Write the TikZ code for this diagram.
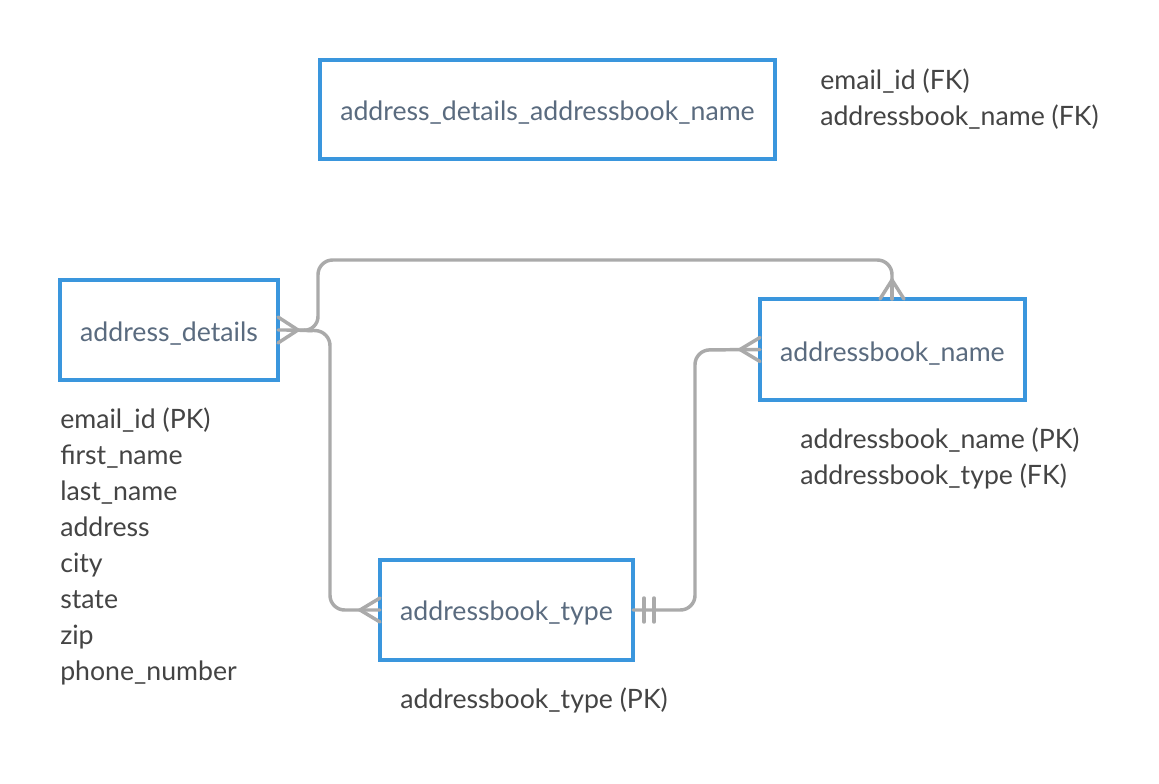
\documentclass[tikz,border=0pt]{standalone}
\usepackage{fontspec}
\setmainfont{Lato}
\usetikzlibrary{calc}
\definecolor{boxblue}{HTML}{3A96DD}
\definecolor{nametext}{HTML}{5A6B7F}
\definecolor{attrtext}{HTML}{444444}
\definecolor{linkgray}{HTML}{AAAAAA}
\begin{document}
\begin{tikzpicture}[x=0.75pt,y=-0.75pt,
  entity/.style={draw=boxblue,line width=2.4pt,fill=white,outer sep=0pt,inner sep=0pt},
  etext/.style={anchor=mid,inner sep=0pt,text=nametext,font=\fontsize{20}{24}\selectfont},
  attr/.style={anchor=mid west,inner sep=0pt,text=attrtext,font=\fontsize{20}{24}\selectfont},
  link/.style={draw=linkgray,line width=2.6pt,rounded corners=11pt,line cap=round},
  foot/.style={draw=linkgray,line width=2.6pt,line cap=round}]
\useasboundingbox[fill=white] (0,0) rectangle (1159,784);

% entities
\node[entity,minimum width=341.25pt,minimum height=74.25pt] (adan) at (547.5,109.5) {};
\node[etext] (adanl) at (547.5,117) {address\_details\_addressbook\_name};
\node[entity,minimum width=163.5pt,minimum height=75pt] (ad) at (169,330) {};
\node[etext] (adl) at (169,338) {address\_details};
\node[entity,minimum width=198.75pt,minimum height=75.75pt] (an) at (892.5,349.5) {};
\node[etext] (anl) at (892.5,358) {addressbook\_name};
\node[entity,minimum width=189.75pt,minimum height=75pt] (at) at (506.5,610) {};
\node[etext] (atl) at (506.5,617) {addressbook\_type};

% attributes
\node[attr] (f1) at (820,86) {email\_id (FK)};
\node[attr] (f2) at (820,122) {addressbook\_name (FK)};

\node[attr] (a1) at (60,425) {email\_id (PK)};
\node[attr] (a2) at (60,461) {first\_name};
\node[attr] (a3) at (60,497) {last\_name};
\node[attr] (a4) at (60,533) {address};
\node[attr] (a5) at (60,569) {city};
\node[attr] (a6) at (60,605) {state};
\node[attr] (a7) at (60,641) {zip};
\node[attr] (a8) at (60,677) {phone\_number};

\node[attr] (n1) at (800,445) {addressbook\_name (PK)};
\node[attr] (n2) at (800,481) {addressbook\_type (FK)};

\node[attr] (t1) at (400,705) {addressbook\_type (PK)};

% connector points
\coordinate (adc) at ($(ad.east)+(20,0)$);
\coordinate (antopc) at (892,280);
\coordinate (anleftc) at ($(an.west)+(-20,0)$);
\coordinate (atleftc) at ($(at.west)+(-20,0)$);

% connectors
\draw[link] (ad.east) -- (adc) -- (318,331) -- (318,260) -- (892,260) -- (892,299);
\draw[link] (adc) -- (330,331) -- (330,610) -- (at.west);
\draw[link] (at.east) -- (695,610) -- (695,350) -- (an.west);

% crow's feet
\draw[foot] (ad.east) ++(0,-13) -- (adc);
\draw[foot] (ad.east) ++(0,13) -- (adc);
\draw[foot] (880,299) -- (antopc) -- (904,299);
\draw[foot] (892,299) -- (antopc);
\draw[foot] ($(an.west)+(0,-12)$) -- (anleftc) -- ($(an.west)+(0,12)$);
\draw[foot] ($(at.west)+(0,-12)$) -- (atleftc) -- ($(at.west)+(0,12)$);
% one-and-only-one bars
\draw[foot] ($(at.east)+(11,-12)$) -- ($(at.east)+(11,12)$);
\draw[foot] ($(at.east)+(21,-12)$) -- ($(at.east)+(21,12)$);
\end{tikzpicture}
\end{document}
